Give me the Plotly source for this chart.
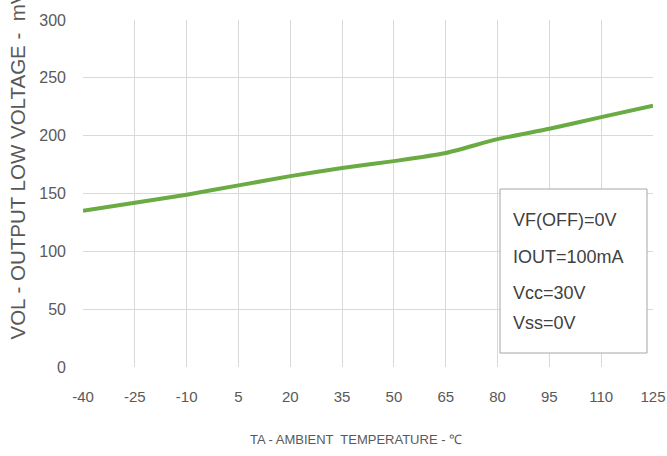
import plotly.graph_objects as go

temps = [-40, -25, -10, 5, 20, 35, 50, 65, 80, 95, 110, 125]
vol = [135, 142, 149, 157, 165, 172, 178, 185, 197, 206, 216, 226]
x_ticks = [-40, -25, -10, 5, 20, 35, 50, 65, 80, 95, 110, 125]
y_ticks = [0, 50, 100, 150, 200, 250, 300]
notes = ["VF(OFF)=0V", "IOUT=100mA", "Vcc=30V", "Vss=0V"]
note_y_px = [220, 257, 293, 323]

FONT = "Liberation Sans, Arial, sans-serif"
W, H = 667, 456
L, R, T, B = 83, 653, 20, 367  # plot area in screen pixels
PW, PH = R - L, B - T


def px(xp):
    return (xp - L) / PW


def py(yp):
    return (B - yp) / PH


fig = go.Figure()
fig.add_trace(go.Scatter(x=temps, y=vol, mode="lines",
                         line=dict(color="#6aab44", width=4, shape="spline", smoothing=0.6),
                         showlegend=False))

fig.update_layout(
    width=W, height=H,
    margin=dict(l=L, r=W - R, t=T, b=H - B, autoexpand=False),
    paper_bgcolor="white", plot_bgcolor="white",
    font=dict(family=FONT, size=16, color="#595959"),
    xaxis=dict(range=[-40, 125], tickvals=x_ticks, ticktext=[str(v) for v in x_ticks],
               showgrid=True, gridcolor="#d9d9d9", gridwidth=1, zeroline=False,
               showline=False, ticks="", automargin=False, ticklabelstandoff=19,
               ticklabeloverflow="allow",
               tickfont=dict(size=15, color="#595959")),
    yaxis=dict(range=[0, 300], tickvals=y_ticks, showgrid=True, gridcolor="#d9d9d9",
               gridwidth=1, zeroline=False, showline=False, ticks="", automargin=False,
               ticklabelstandoff=16, tickfont=dict(size=16, color="#595959")),
)

fig.add_annotation(xref="paper", yref="paper", x=px(17), y=py(342), xanchor="center",
                   yanchor="bottom", textangle=-90, showarrow=False,
                   text="VOL - OUTPUT LOW VOLTAGE -  mV",
                   font=dict(family=FONT, size=20.5, color="#595959"))

fig.add_annotation(xref="paper", yref="paper", x=px(356), y=py(440), xanchor="center",
                   yanchor="middle", showarrow=False,
                   text="TA - AMBIENT  TEMPERATURE - ℃",
                   font=dict(family=FONT, size=13, color="#595959"))

fig.add_shape(type="rect", xref="paper", yref="paper",
              x0=px(500), x1=px(647), y0=py(353), y1=py(189),
              line=dict(color="#a6a6a6", width=1), fillcolor="white", layer="above")

for txt, yp in zip(notes, note_y_px):
    fig.add_annotation(xref="paper", yref="paper", x=px(511), y=py(yp),
                       xanchor="left", yanchor="middle", showarrow=False, text=txt,
                       font=dict(family=FONT, size=18, color="#404040"))

fig.write_html(
    "out.html",
    config={"displayModeBar": False},
    post_script="document.body.style.margin='0';document.body.style.overflow='hidden';",
)
